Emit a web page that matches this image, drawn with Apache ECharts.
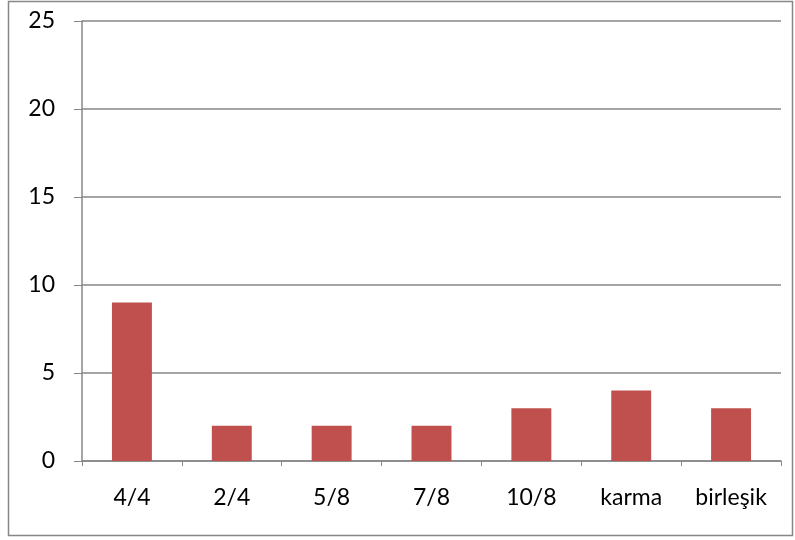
<!DOCTYPE html>
<html>
<head>
<meta charset="utf-8">
<script src="https://cdn.jsdelivr.net/npm/echarts@6/dist/echarts.min.js"></script>
<style>
  html, body { margin: 0; padding: 0; background: #fff; }
  #main { width: 795px; height: 540px; }
</style>
</head>
<body>
<div id="main"></div>
<script>
var categories = ['4/4', '2/4', '5/8', '7/8', '10/8', 'karma', 'birleşik'];
var values = [9, 2, 2, 2, 3, 4, 3];

var myChart = echarts.init(document.getElementById('main'));
var lineColor = '#878787';

var option = {
  animation: false,
  textStyle: { fontFamily: 'Lato, "Open Sans", sans-serif' },
  graphic: [{
    type: 'rect',
    shape: { x: 8.5, y: 1.5, width: 784, height: 534 },
    style: { fill: 'none', stroke: lineColor, lineWidth: 1.5 }
  }],
  grid: { left: 82, right: 14, top: 21, bottom: 79 },
  xAxis: {
    type: 'category',
    data: categories,
    axisLine: { lineStyle: { color: lineColor, width: 1.5 } },
    axisTick: { show: true, length: 5, lineStyle: { color: lineColor } },
    axisLabel: { color: '#000', fontSize: 23, margin: 25 }
  },
  yAxis: {
    type: 'value',
    min: 0,
    max: 25,
    interval: 5,
    axisLine: { show: true, lineStyle: { color: lineColor, width: 1.5 } },
    axisTick: { show: true, length: 8, lineStyle: { color: lineColor } },
    axisLabel: { color: '#000', fontSize: 23, margin: 27 },
    splitLine: { lineStyle: { color: lineColor, width: 1.5 } }
  },
  series: [{
    type: 'bar',
    data: values,
    barWidth: '40%',
    itemStyle: { color: '#C0504D' }
  }]
};

myChart.setOption(option);
</script>
</body>
</html>
